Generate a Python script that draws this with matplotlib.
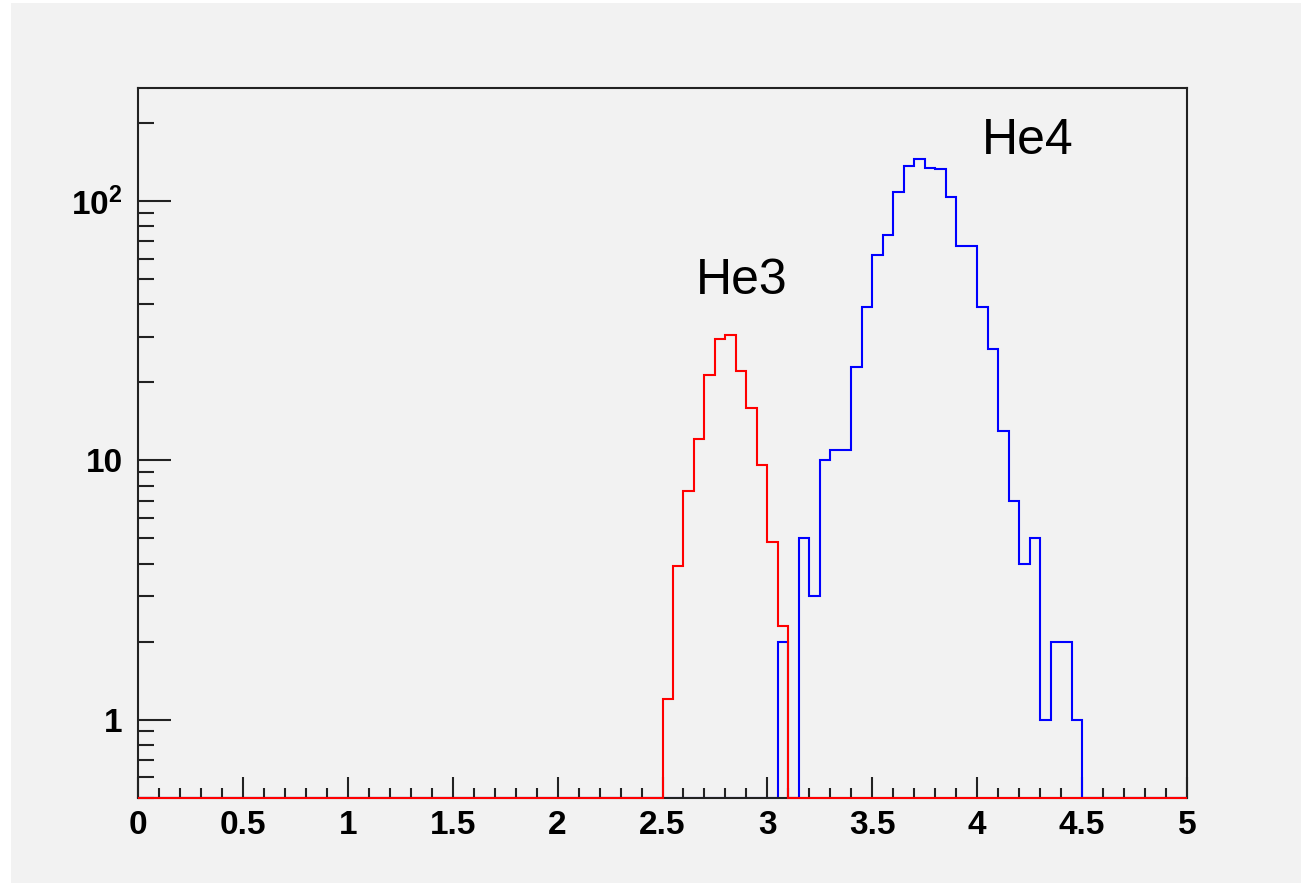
import numpy as np
import matplotlib
matplotlib.use("Agg")
import matplotlib.pyplot as plt
from matplotlib.patches import Rectangle
from matplotlib.ticker import MultipleLocator, LogLocator, FixedLocator, FuncFormatter, NullFormatter

# ---- data ----
bin_edges = np.linspace(0.0, 5.0, 101)          # 100 bins of width 0.05
he3_first_bin = 2.50
he3_counts = [1.2, 3.9, 7.6, 12.1, 21.3, 29.3, 30.4, 22.1, 16.0, 9.6, 4.85, 2.3]
he4_first_bin = 3.05
he4_counts = [2, 0, 5, 3, 10, 11, 11, 23, 39, 62, 74, 109, 137, 145, 135, 133,
              104, 67, 67, 39, 27, 13, 7, 4, 5, 1, 2, 2, 1]
labels = ["He3", "He4"]
label_pos = [(2.66, 44.0), (4.02, 152.0)]
y_ticks = [1, 10, 100]
x_ticks = [0, 0.5, 1, 1.5, 2, 2.5, 3, 3.5, 4, 4.5, 5]
ymin, ymax = 0.5, 273.0


def full_hist(first, counts):
    vals = np.zeros(len(bin_edges) - 1)
    i0 = int(round(first / 0.05))
    vals[i0:i0 + len(counts)] = counts
    return vals


he3 = full_hist(he3_first_bin, he3_counts)
he4 = full_hist(he4_first_bin, he4_counts)

plt.rcParams['font.family'] = ['Liberation Sans', 'DejaVu Sans']
plt.rcParams['mathtext.fontset'] = 'custom'
plt.rcParams['mathtext.rm'] = 'Liberation Sans'
plt.rcParams['mathtext.bf'] = 'Liberation Sans:bold'

fig = plt.figure(figsize=(13.01, 8.83), dpi=100, facecolor='white')
fig.patches.append(Rectangle((11 / 1301, 0), 1 - 11 / 1301, 1 - 3 / 883,
                             transform=fig.transFigure, facecolor='#f2f2f2',
                             edgecolor='none', zorder=-10))
ax = fig.add_axes([138 / 1301, 1 - 797.5 / 883, (1187 - 138) / 1301, (797.5 - 88.3) / 883])
ax.set_facecolor('#f2f2f2')
ax.set_yscale('log')
ax.set_xlim(0, 5)
ax.set_ylim(ymin, ymax)

ax.stairs(np.where(he4 > 0, he4, ymin), bin_edges, baseline=None,
          color='#0000ff', lw=1.5, zorder=2)
ax.stairs(np.where(he3 > 0, he3, ymin), bin_edges, baseline=None,
          color='#ff0000', lw=1.5, zorder=3, clip_on=False)

for txt, (x, y) in zip(labels, label_pos):
    ax.text(x, y, txt, fontsize=36, color='black', ha='left', va='baseline')

for s in ax.spines.values():
    s.set_linewidth(1.5)
    s.set_color('#222222')

ax.xaxis.set_major_locator(FixedLocator(x_ticks))
ax.xaxis.set_minor_locator(MultipleLocator(0.1))
ax.yaxis.set_major_locator(FixedLocator(y_ticks))
ax.yaxis.set_minor_locator(LogLocator(base=10, subs=np.arange(2, 10), numticks=20))
ax.yaxis.set_minor_formatter(NullFormatter())


def xfmt(v, pos):
    return ("%g" % v)


def yfmt(v, pos):
    if v >= 100:
        return r"$\mathbf{10^{%d}}$" % int(round(np.log10(v)))
    return "%g" % v


ax.xaxis.set_major_formatter(FuncFormatter(xfmt))
ax.yaxis.set_major_formatter(FuncFormatter(yfmt))

ax.tick_params(axis='x', which='major', direction='in', length=15, width=1.5,
               top=False, labelsize=24, pad=9, color='#222222')
ax.tick_params(axis='x', which='minor', direction='in', length=7, width=1.5,
               top=False, color='#222222')
ax.tick_params(axis='y', which='major', direction='in', length=24, width=1.5,
               right=False, labelsize=24, pad=11, color='#222222')
ax.tick_params(axis='y', which='minor', direction='in', length=11.5, width=1.5,
               right=False, color='#222222')
for lab in ax.get_xticklabels() + ax.get_yticklabels():
    lab.set_fontweight('bold')

fig.savefig("out.png", dpi=100, facecolor=fig.get_facecolor())
